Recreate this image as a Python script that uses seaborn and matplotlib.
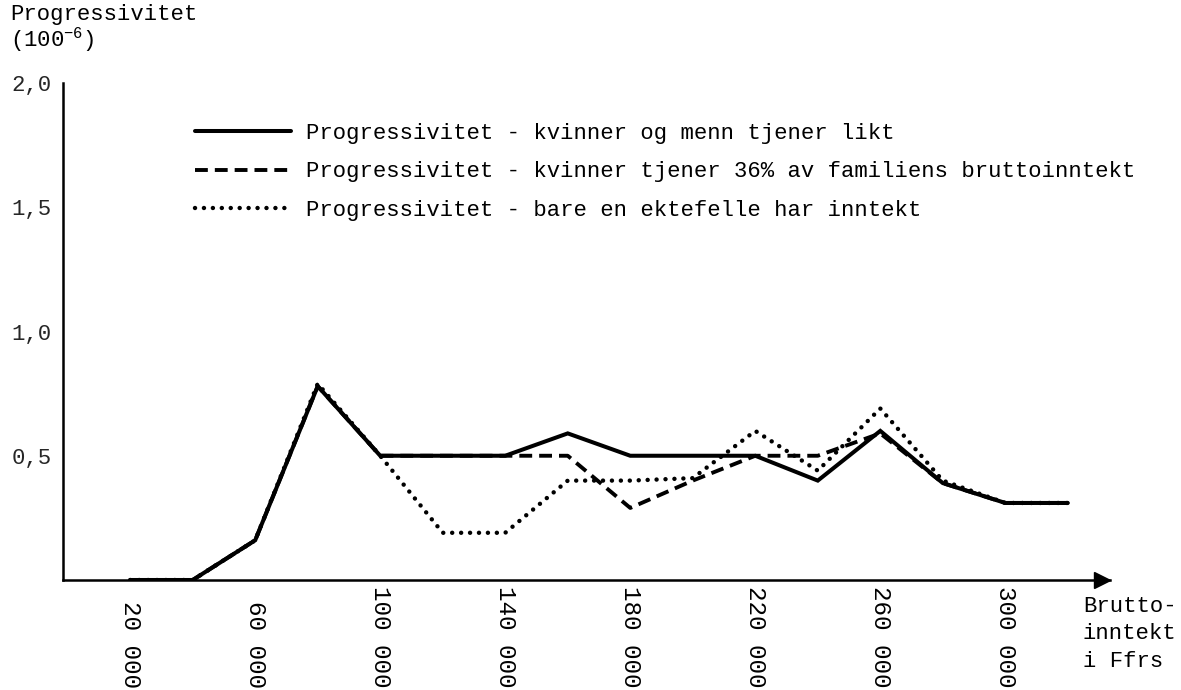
import numpy as np
import pandas as pd
import seaborn as sns
import matplotlib.pyplot as plt

# Gross income (Ffrs) and progressivity (10^-6)
income = [20000, 40000, 60000, 80000, 100000, 120000, 140000, 160000,
          180000, 200000, 220000, 240000, 260000, 280000, 300000, 320000]
prog_equal = [0.0, 0.0, 0.16, 0.78, 0.5, 0.5, 0.5, 0.59,
              0.5, 0.5, 0.5, 0.4, 0.6, 0.39, 0.31, 0.31]
prog_36pct = [0.0, 0.0, 0.16, 0.78, 0.5, 0.5, 0.5, 0.5,
              0.29, 0.4, 0.5, 0.5, 0.59, 0.39, 0.31, 0.31]
prog_single = [0.0, 0.0, 0.16, 0.79, 0.5, 0.19, 0.19, 0.4,
               0.4, 0.41, 0.6, 0.44, 0.69, 0.4, 0.31, 0.31]

series_names = [
    "Progressivitet - kvinner og menn tjener likt",
    "Progressivitet - kvinner tjener 36% av familiens bruttoinntekt",
    "Progressivitet - bare en ektefelle har inntekt",
]
xtick_values = [20000, 60000, 100000, 140000, 180000, 220000, 260000, 300000]
xtick_labels = ["20 000", "60 000", "100 000", "140 000", "180 000",
                "220 000", "260 000", "300 000"]
ytick_values = [0.5, 1.0, 1.5, 2.0]
ytick_labels = ["0,5", "1,0", "1,5", "2,0"]

df = pd.concat([
    pd.DataFrame({"inntekt": income, "prog": vals, "serie": name})
    for name, vals in zip(series_names, [prog_equal, prog_36pct, prog_single])
])

sns.set_theme(style="white")
plt.rcParams["font.family"] = ["Liberation Mono", "DejaVu Sans Mono"]
plt.rcParams["mathtext.fontset"] = "custom"
plt.rcParams["mathtext.rm"] = "Liberation Mono"
plt.rcParams["mathtext.it"] = "Liberation Mono"
plt.rcParams["text.color"] = "black"

fig = plt.figure(figsize=(11.81, 6.90), dpi=100)
ax = fig.add_axes([63 / 1181, 110 / 690, 1047 / 1181, 497 / 690])

dash_map = {
    series_names[0]: "",
    series_names[1]: (3.3, 1.8),
    series_names[2]: (0.01, 2.0),
}
sns.lineplot(data=df, x="inntekt", y="prog", style="serie",
             style_order=series_names, dashes=dash_map, color="black",
             legend=False, ax=ax)

widths = [2.9, 2.8, 3.2]
caps = ["butt", "butt", "round"]
for line, lw, cap in zip(ax.lines, widths, caps):
    line.set_linewidth(lw)
    line.set_dash_capstyle(cap)
    line.set_solid_joinstyle("miter")

ax.set_xlim(-1500, 333500)
ax.set_ylim(0, 2.0)
sns.despine(ax=ax)
for side in ["left", "bottom"]:
    ax.spines[side].set_color("black")
    ax.spines[side].set_linewidth(1.8)

ax.set_xticks(xtick_values)
ax.set_xticklabels([])
ax.set_yticks(ytick_values)
ax.set_yticklabels(ytick_labels, fontsize=16)
ax.tick_params(axis="both", direction="in", color="black", width=1.5)
ax.tick_params(axis="x", length=10)
ax.tick_params(axis="y", length=10, pad=8)
ax.set_xlabel("")
ax.set_ylabel("")

# rotated income labels, bottom-aligned like the typed original
for xv, lab in zip(xtick_values, xtick_labels):
    ax.text(xv, -0.217, lab, transform=ax.get_xaxis_transform(),
            rotation=-90, ha="center", va="bottom", fontsize=17.5)

# arrow head at the end of the x axis
ax.plot([1.0 - 8 / 1047], [0.0], marker=">", ms=12, color="black",
        transform=ax.transAxes, clip_on=False)

fig.text(10 / 1181, 1 - 4 / 690, "Progressivitet\n(100$^{-6}$)",
         ha="left", va="top", fontsize=16, linespacing=1.0)
fig.text(1083 / 1181, 1 - 596 / 690, "Brutto-\ninntekt\ni Ffrs",
         ha="left", va="top", fontsize=16, linespacing=1.4)

ax.legend(handles=ax.lines[:3], labels=series_names, frameon=False,
          loc="upper left", bbox_to_anchor=(195 / 1181, 1 - 123 / 690),
          bbox_transform=fig.transFigure, borderpad=0, borderaxespad=0,
          handlelength=4.3, handletextpad=0.7, labelspacing=0.78,
          fontsize=16)

fig.savefig("out.png", dpi=100, facecolor="white")
